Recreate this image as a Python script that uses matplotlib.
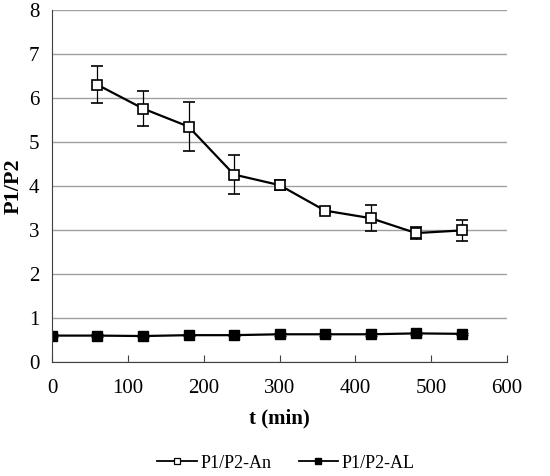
import matplotlib
matplotlib.use("Agg")
import matplotlib.pyplot as plt
from matplotlib.lines import Line2D
from matplotlib.ticker import MultipleLocator

plt.rcParams["font.family"] = ["Liberation Serif", "DejaVu Serif"]

# data
t_an = [60, 120, 180, 240, 300, 360, 420, 480, 540]
ratio_an = [6.30, 5.76, 5.35, 4.26, 4.02, 3.44, 3.27, 2.93, 2.99]
err_an = [0.42, 0.39, 0.56, 0.44, 0.12, 0.05, 0.30, 0.13, 0.23]

t_al = [0, 60, 120, 180, 240, 300, 360, 420, 480, 540]
ratio_al = [0.60, 0.60, 0.59, 0.61, 0.61, 0.63, 0.63, 0.63, 0.65, 0.64]
err_al = [0.03, 0.03, 0.03, 0.03, 0.03, 0.03, 0.03, 0.03, 0.03, 0.03]

fig = plt.figure(figsize=(5.5, 4.76), dpi=100)
ax = fig.add_axes([0.0945, 0.2395, 0.8275, 0.7395])

ax.errorbar(t_an, ratio_an, yerr=err_an, color="black", lw=1.6,
            marker="s", ms=7.5, mfc="white", mec="black", mew=1.2,
            ecolor="black", elinewidth=0.9, capsize=4, capthick=0.9)
ax.errorbar(t_al, ratio_al, yerr=err_al, color="black", lw=1.6,
            marker="s", ms=7.5, mfc="black", mec="black",
            ecolor="black", elinewidth=0.9, capsize=4, capthick=0.9)

ax.set_xlim(0, 600)
ax.set_ylim(0, 8)
ax.xaxis.set_major_locator(MultipleLocator(100))
ax.yaxis.set_major_locator(MultipleLocator(1))
ax.grid(axis="y", color="#a0a0a0", lw=1)
ax.set_axisbelow(True)

for s in ["top", "right"]:
    ax.spines[s].set_visible(False)
ax.spines["left"].set_color("#404040")
ax.spines["bottom"].set_color("#404040")

ax.tick_params(axis="x", direction="in", length=5, pad=12,
               labelsize=15, color="#404040")
ax.tick_params(axis="y", length=0, pad=9, labelsize=15)

ax.set_xlabel("t (min)", fontsize=15, fontweight="bold", labelpad=8)
ax.set_ylabel("P1/P2", fontsize=16, fontweight="bold", labelpad=4)

handles = [
    Line2D([], [], color="black", lw=1.3, marker="s", ms=5,
           mfc="white", mec="black", mew=0.9),
    Line2D([], [], color="black", lw=1.3, marker="s", ms=5,
           mfc="black", mec="black"),
]
fig.legend(handles, ["P1/P2-An", "P1/P2-AL"], loc="lower center",
           bbox_to_anchor=(0.52, -0.025), ncol=2, frameon=False,
           fontsize=13, handlelength=2.2, handletextpad=0.2,
           columnspacing=1.5)

fig.savefig("out.png", dpi=100)
